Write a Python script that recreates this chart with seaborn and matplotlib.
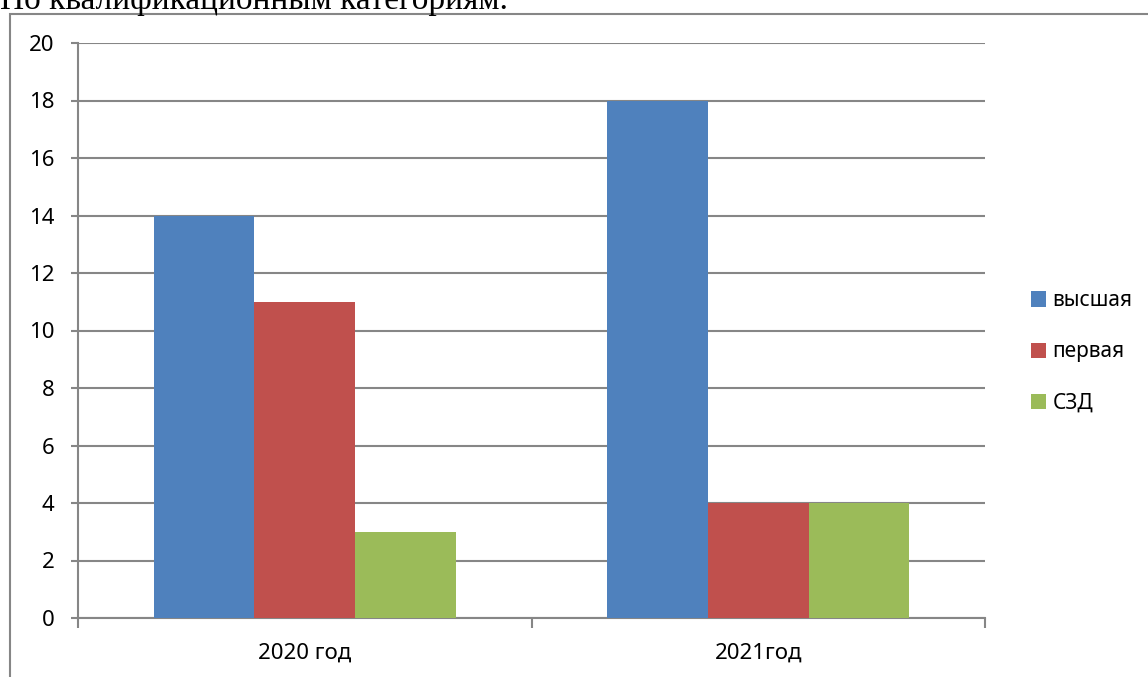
import pandas as pd
import matplotlib
matplotlib.use("Agg")
import matplotlib.pyplot as plt
import seaborn as sns

# Data
years = ["2020 год", "2021год"]
categories = ["высшая", "первая", "СЗД"]
values_high = [14, 18]
values_first = [11, 4]
values_szd = [3, 4]

colors = ["#4F81BD", "#C0504D", "#9BBB59"]
grid_gray = "#868686"

df = pd.DataFrame({
    "year": years * 3,
    "category": [categories[0]] * 2 + [categories[1]] * 2 + [categories[2]] * 2,
    "value": values_high + values_first + values_szd,
})

sns.set_theme(style="white")
plt.rcParams["font.family"] = ["Noto Sans", "DejaVu Sans"]
plt.rcParams["text.color"] = "black"
plt.rcParams["xtick.color"] = "black"
plt.rcParams["ytick.color"] = "black"

W, H = 1148, 677
fig = plt.figure(figsize=(W / 100, H / 100), dpi=100)

# page text above the chart (cut off at the top in the reference)
fig.text(0.0, 1 - 9 / H, "По квалификационным категориям.", fontsize=24,
         family=["Liberation Serif", "DejaVu Serif"], ha="left", va="baseline",
         color="black")

# chart frame
frame = plt.Rectangle((10 / W, -0.01), 1.2, 1 - 14 / H + 0.01, transform=fig.transFigure,
                      fill=False, edgecolor=grid_gray, linewidth=1.5, zorder=0)
fig.patches.append(frame)

ax = fig.add_axes([78 / W, (H - 618) / H, (985 - 78) / W, (618 - 43) / H])
sns.barplot(data=df, x="year", y="value", hue="category", palette=colors,
            width=0.667, saturation=1, ax=ax, legend=True, zorder=3, linewidth=0)

ax.set_xlim(-0.5, 1.5)
ax.set_ylim(0, 20)
ax.set_yticks(range(0, 21, 2))
ax.set_xlabel("")
ax.set_ylabel("")

ax.yaxis.grid(True, color=grid_gray, linewidth=1.5, zorder=0)
ax.set_axisbelow(True)
for side in ["top", "right"]:
    ax.spines[side].set_visible(False)
for side in ["left", "bottom"]:
    ax.spines[side].set_color(grid_gray)
    ax.spines[side].set_linewidth(1.5)

ax.tick_params(axis="y", length=5, width=1.5, color=grid_gray, pad=12,
               labelsize=16, left=True, labelcolor="black")
ax.set_xticks([-0.5, 0.5, 1.5], minor=True)
ax.tick_params(axis="x", which="minor", length=7, width=1.5, color=grid_gray, bottom=True)
ax.tick_params(axis="x", which="major", length=0, pad=18, labelsize=16, labelcolor="black")

handles, labels = ax.get_legend_handles_labels()
ax.get_legend().remove()
fig.legend(handles, labels, loc="center left", bbox_to_anchor=(1012 / W, 1 - 352 / H),
           frameon=False, fontsize=15, handlelength=0.75, handleheight=0.75,
           handletextpad=0.3, labelspacing=1.45)

fig.savefig("out.png", dpi=100)
